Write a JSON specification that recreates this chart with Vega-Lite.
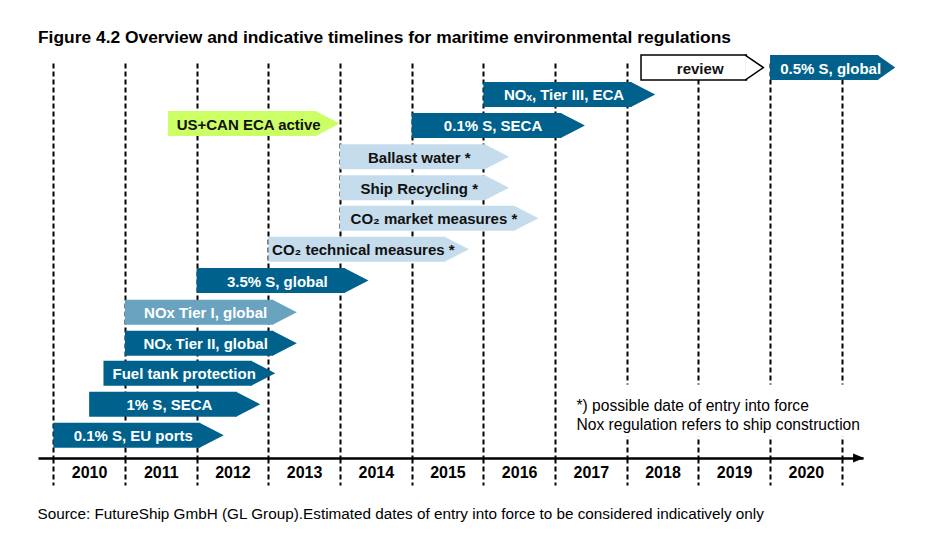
{
  "$schema": "https://vega.github.io/schema/vega-lite/v6.json",
  "width": 825,
  "height": 395,
  "autosize": "none",
  "padding": {"left": 38, "top": 63, "right": 68, "bottom": 98},
  "background": "white",
  "title": {
    "text": "Figure 4.2 Overview and indicative timelines for maritime environmental regulations",
    "anchor": "start",
    "frame": "group",
    "baseline": "alphabetic",
    "offset": -8.5,
    "font": "Liberation Sans",
    "fontSize": 17.4,
    "fontWeight": "bold",
    "color": "black"
  },
  "config": {"view": {"stroke": null}},
  "datasets": {
    "bars": [
      {"name": "0.1% S, EU ports", "start": 2010.0, "end": 2012.05, "row": 0, "kind": "dark"},
      {"name": "1% S, SECA", "start": 2010.5, "end": 2012.56, "row": 1, "kind": "dark"},
      {"name": "Fuel tank protection", "start": 2010.7, "end": 2012.77, "row": 2, "kind": "dark"},
      {"name": "NOₓ Tier II, global", "start": 2011.0, "end": 2013.07, "row": 2.97, "kind": "dark"},
      {"name": "NOx Tier I, global", "start": 2011.0, "end": 2013.07, "row": 3.97, "kind": "medium"},
      {"name": "3.5% S, global", "start": 2012.0, "end": 2014.07, "row": 4.99, "kind": "dark"},
      {"name": "CO₂ technical measures *", "start": 2013.0, "end": 2015.47, "row": 6, "kind": "light"},
      {"name": "CO₂ market measures *", "start": 2014.0, "end": 2016.44, "row": 7, "kind": "light"},
      {"name": "Ship Recycling *", "start": 2014.0, "end": 2016.03, "row": 7.99, "kind": "light"},
      {"name": "Ballast water *", "start": 2014.0, "end": 2016.03, "row": 8.99, "kind": "light"},
      {"name": "US+CAN ECA active", "start": 2011.6, "end": 2013.67, "row": 10.06, "kind": "green"},
      {"name": "0.1% S, SECA", "start": 2015.0, "end": 2017.09, "row": 10, "kind": "dark"},
      {"name": "NOₓ, Tier III, ECA", "start": 2016.0, "end": 2018.07, "row": 11, "kind": "dark"},
      {"name": "review", "start": 2018.2, "end": 2019.67, "row": 11.87, "kind": "outline"},
      {"name": "0.5% S, global", "start": 2020.0, "end": 2021.51, "row": 11.87, "kind": "dark"}
    ]
  },
  "data": {"name": "bars"},
  "layer": [
    {
      "transform": [{"filter": "datum.kind !== 'outline'"}],
      "mark": {"type": "bar", "size": 25, "orient": "horizontal"},
      "encoding": {
        "x": {
          "field": "start",
          "type": "quantitative",
          "scale": {"domain": [2009.7865, 2021.2972], "nice": false, "zero": false},
          "axis": {
            "values": [2010, 2011, 2012, 2013, 2014, 2015, 2016, 2017, 2018, 2019, 2020, 2021],
            "labelExpr": "datum.value < 2020.5 ? '' + datum.value : ''",
            "labelOffset": 35.8,
            "labelPadding": -12.3,
            "labelBaseline": "middle",
            "labelAlign": "center",
            "labelOverlap": false,
            "labelBound": false,
            "labelFlush": false,
            "labelFont": "Liberation Sans",
            "labelFontSize": 16,
            "labelFontWeight": "bold",
            "labelColor": "black",
            "grid": true,
            "gridDash": [5, 3],
            "gridColor": "black",
            "gridWidth": 2,
            "gridOpacity": 1,
            "ticks": true,
            "tickSize": 27,
            "tickDash": [5, 3],
            "tickWidth": 2,
            "tickColor": "black",
            "domain": true,
            "domainColor": "black",
            "domainWidth": 2.5,
            "title": "Source: FutureShip GmbH (GL Group).Estimated dates of entry into force to be considered indicatively only",
            "titleAnchor": "start",
            "titleAlign": "left",
            "titleBaseline": "alphabetic",
            "titleX": -1,
            "titleY": 60,
            "titleFont": "Liberation Sans",
            "titleFontSize": 15.3,
            "titleFontWeight": "normal",
            "titleColor": "black"
          }
        },
        "x2": {"field": "end"},
        "y": {
          "field": "row",
          "type": "quantitative",
          "scale": {"domain": [-0.5755, 11.855], "nice": false, "zero": false},
          "axis": null
        },
        "color": {
          "field": "kind",
          "type": "nominal",
          "scale": {
            "domain": ["dark", "medium", "light", "green"],
            "range": ["#00628C", "#6AA3C0", "#C5DCEC", "#CCFF66"]
          },
          "legend": null
        }
      }
    },
    {
      "transform": [{"filter": "datum.kind !== 'outline' && datum.row < 11.5"}],
      "mark": {"type": "point", "shape": "M-0.06,-1L1.88,0L-0.06,1Z", "size": 625, "filled": true, "opacity": 1, "strokeWidth": 0},
      "encoding": {
        "x": {"field": "end", "type": "quantitative", "scale": {"domain": [2009.7865, 2021.2972], "nice": false, "zero": false}},
        "y": {"field": "row", "type": "quantitative", "scale": {"domain": [-0.5755, 11.855], "nice": false, "zero": false}, "axis": null},
        "color": {"field": "kind", "type": "nominal", "legend": null}
      }
    },
    {
      "transform": [{"filter": "datum.kind !== 'outline' && datum.row > 11.5"}],
      "mark": {"type": "point", "shape": "M-0.06,-1L1.36,0L-0.06,1Z", "size": 625, "filled": true, "opacity": 1, "strokeWidth": 0},
      "encoding": {
        "x": {"field": "end", "type": "quantitative", "scale": {"domain": [2009.7865, 2021.2972], "nice": false, "zero": false}},
        "y": {"field": "row", "type": "quantitative", "scale": {"domain": [-0.5755, 11.855], "nice": false, "zero": false}, "axis": null},
        "color": {"field": "kind", "type": "nominal", "legend": null}
      }
    },
    {
      "transform": [{"filter": "datum.kind === 'outline'"}],
      "mark": {"type": "bar", "size": 25, "orient": "horizontal", "fill": "white", "stroke": "black", "strokeWidth": 1.5},
      "encoding": {
        "x": {"field": "start", "type": "quantitative", "scale": {"domain": [2009.7865, 2021.2972], "nice": false, "zero": false}},
        "x2": {"field": "end"},
        "y": {"field": "row", "type": "quantitative", "scale": {"domain": [-0.5755, 11.855], "nice": false, "zero": false}, "axis": null}
      }
    },
    {
      "transform": [{"filter": "datum.kind === 'outline'"}],
      "mark": {"type": "point", "shape": "M-0.1,-1L1.36,0L-0.1,1", "size": 625, "filled": true, "fill": "white", "stroke": "black", "strokeWidth": 1.5, "opacity": 1},
      "encoding": {
        "x": {"field": "end", "type": "quantitative", "scale": {"domain": [2009.7865, 2021.2972], "nice": false, "zero": false}},
        "y": {"field": "row", "type": "quantitative", "scale": {"domain": [-0.5755, 11.855], "nice": false, "zero": false}, "axis": null}
      }
    },
    {
      "transform": [{"calculate": "(datum.start + datum.end) / 2", "as": "mid"}],
      "mark": {"type": "text", "font": "Liberation Sans", "fontSize": 15, "fontWeight": "bold", "align": "center", "baseline": "middle", "dx": 6.5, "dy": 1},
      "encoding": {
        "x": {"field": "mid", "type": "quantitative", "scale": {"domain": [2009.7865, 2021.2972], "nice": false, "zero": false}},
        "y": {"field": "row", "type": "quantitative", "scale": {"domain": [-0.5755, 11.855], "nice": false, "zero": false}, "axis": null},
        "text": {"field": "name"},
        "color": {
          "condition": {"test": "datum.kind === 'light' || datum.kind === 'green' || datum.kind === 'outline'", "value": "#111111"},
          "value": "white"
        }
      }
    },
    {
      "data": {"values": [{}]},
      "mark": {"type": "rect", "color": "white", "opacity": 1},
      "encoding": {
        "x": {"datum": 2017.2},
        "x2": {"datum": 2021.25},
        "y": {"datum": 1.635},
        "y2": {"datum": -0.053}
      }
    },
    {
      "data": {"values": [{"note": "*) possible date of entry into force\nNox regulation refers to ship construction"}]},
      "mark": {"type": "text", "font": "Liberation Sans", "fontSize": 15.6, "align": "left", "baseline": "alphabetic", "lineBreak": "\n", "lineHeight": 19.3, "color": "black"},
      "encoding": {
        "x": {"datum": 2017.3},
        "y": {"datum": 0.78},
        "text": {"field": "note"}
      }
    },
    {
      "data": {"values": [{}]},
      "mark": {"type": "point", "shape": "M-1,-0.8L1,0L-1,0.8Z", "size": 121, "filled": true, "color": "black", "opacity": 1},
      "encoding": {
        "x": {"datum": 2021.235},
        "y": {"value": "height"}
      }
    }
  ]
}
